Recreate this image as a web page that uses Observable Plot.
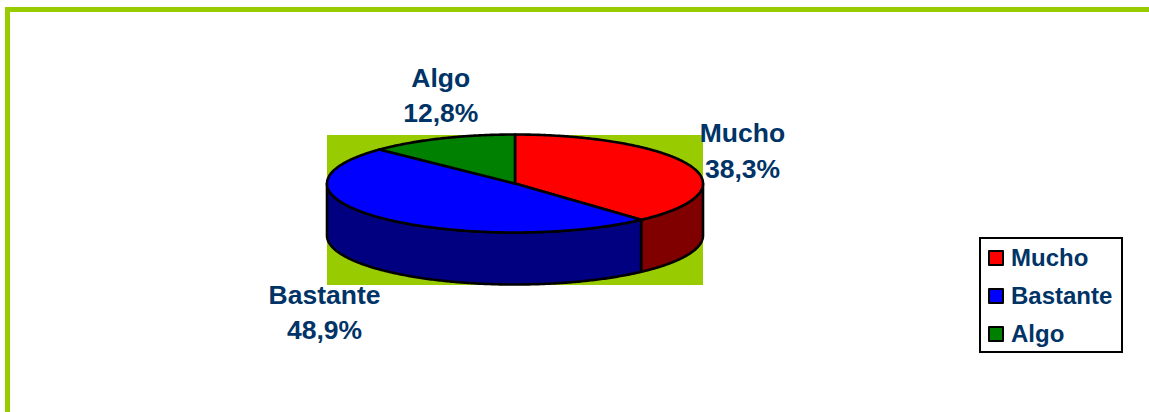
<!DOCTYPE html>
<html>
<head>
<meta charset="utf-8">
<script src="https://cdn.jsdelivr.net/npm/d3@7"></script>
<script src="https://cdn.jsdelivr.net/npm/@observablehq/plot@0.6"></script>
<style>
  html, body { margin: 0; padding: 0; background: #fff; overflow: hidden; }
  #page { position: relative; width: 1149px; height: 412px; font-family: "Liberation Sans", Arial, sans-serif; }
  #bar-top { position: absolute; left: 5px; top: 7px; right: 0; height: 5px; background: #99cc00; }
  #bar-left { position: absolute; left: 5px; top: 7px; bottom: 0; width: 5px; background: #99cc00; }
  #chart { position: absolute; left: 0; top: 0; }
  #legend { position: absolute; left: 979px; top: 237px; width: 140px; height: 112px; border: 2px solid #000; background: #fff; }
  .row { position: absolute; left: 7px; height: 28px; display: flex; align-items: center; color: #003366; font-weight: bold; font-size: 24px; line-height: 28px; }
  .swatch { width: 12px; height: 12px; border: 2.5px solid #000; margin-right: 7px; border-radius: 1px; }
</style>
</head>
<body>
<div id="page">
  <div id="bar-top"></div>
  <div id="bar-left"></div>
  <div id="chart"></div>
  <div id="legend"></div>
</div>
<script>
const categories = ["Mucho", "Bastante", "Algo"];
const shares = [38.3, 48.9, 12.8];
const shareLabels = ["38,3%", "48,9%", "12,8%"];
const topColors = ["#ff0000", "#0000ff", "#008000"];
const sideColors = ["#800000", "#000080", "#004000"];
const labelX = [1.21, -1.013, -0.395];
const labelY = [0.71, -2.58, 1.85];

const depth = 52 / 49;
const total = d3.sum(shares);
const starts = shares.map((_, i) => d3.sum(shares.slice(0, i)) / total * 2 * Math.PI);
const ends = shares.map((_, i) => d3.sum(shares.slice(0, i + 1)) / total * 2 * Math.PI);

function arc(a0, a1, drop = 0) {
  const n = Math.max(2, Math.ceil((a1 - a0) / 0.01));
  return d3.range(n + 1).map(k => {
    const a = a0 + (a1 - a0) * k / n;
    return [Math.sin(a), Math.cos(a) - drop];
  });
}

const outline = { x: d => d[0], y: d => d[1], curve: "linear", stroke: "#000", strokeWidth: 2.6, strokeLinejoin: "round" };
const topPaths = categories.map((_, i) => [[0, 0], ...arc(starts[i], ends[i]), [0, 0]]);
const sidePaths = categories.map((_, i) => {
  const a0 = Math.max(starts[i], Math.PI / 2);
  const a1 = Math.min(ends[i], 3 * Math.PI / 2);
  return a1 > a0 ? [...arc(a0, a1), ...arc(a0, a1, depth).reverse(), [Math.sin(a0), Math.cos(a0)]] : null;
});

const labels = categories.map((c, i) => ({ text: c + "\n" + shareLabels[i], x: labelX[i], y: labelY[i] }));

const plot = Plot.plot({
  width: 1149,
  height: 412,
  margin: 0,
  x: { domain: [-1, 1], range: [326.5, 702.5], axis: null },
  y: { domain: [-1, 1], range: [232, 134], axis: null },
  marks: [
    Plot.rect([{}], { x1: () => -1 + 0.5 / 188, x2: () => 1 + 0.5 / 188, y1: () => 1 - 1 / 49, y2: () => -1 - depth - 1 / 49, fill: "#99cc00" }),
    ...sidePaths.flatMap((p, i) => p ? [Plot.line(p, { ...outline, fill: sideColors[i] })] : []),
    ...topPaths.map((p, i) => Plot.line(p, { ...outline, fill: topColors[i] })),
    Plot.text(labels, {
      x: "x", y: "y", text: "text", fill: "#003366",
      fontFamily: "Liberation Sans", fontWeight: "bold", fontSize: 26.5, lineHeight: 1.33
    })
  ]
});
document.getElementById("chart").appendChild(plot);

const legend = document.getElementById("legend");
const rowTops = [5, 43, 81];
categories.forEach((c, i) => {
  const row = document.createElement("div");
  row.className = "row";
  row.style.top = rowTops[i] + "px";
  const sw = document.createElement("span");
  sw.className = "swatch";
  sw.style.background = topColors[i];
  row.appendChild(sw);
  row.appendChild(document.createTextNode(c));
  legend.appendChild(row);
});
</script>
</body>
</html>
